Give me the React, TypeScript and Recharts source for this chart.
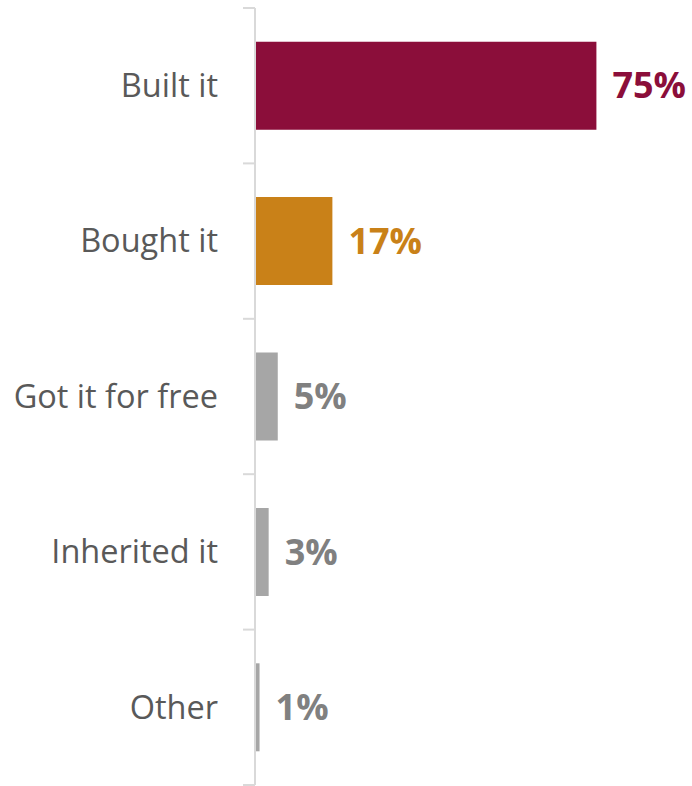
import { BarChart, Bar, XAxis, YAxis, Cell, LabelList } from "recharts";

const categories = ["Built it", "Bought it", "Got it for free", "Inherited it", "Other"];
const shares = [75, 17, 5, 3, 1];
const barColors = ["#8B0E3A", "#C98118", "#A6A6A6", "#A6A6A6", "#A6A6A6"];
const labelColors = ["#8B0E3A", "#C98118", "#808080", "#808080", "#808080"];

const data = categories.map((name, i) => ({ name, value: shares[i] }));

const AXIS_W = 255;
const FONT = "'Open Sans', 'Noto Sans', sans-serif";

const CategoryTick = (props: any) => {
  const { x, y, payload, index } = props;
  const half = payload.offset ?? 0;
  return (
    <g>
      <line x1={AXIS_W - 12} x2={AXIS_W} y1={y - half} y2={y - half} stroke="#d9d9d9" strokeWidth={2} />
      {index === categories.length - 1 && (
        <line x1={AXIS_W - 12} x2={AXIS_W} y1={y + half} y2={y + half} stroke="#d9d9d9" strokeWidth={2} />
      )}
      <text x={x} y={y} dy="0.35em" textAnchor="end" fill="#595959" fontSize={32.5} fontFamily={FONT}>
        {payload.value}
      </text>
    </g>
  );
};

const ValueLabel = (props: any) => {
  const { x, y, width, height, value, index } = props;
  return (
    <text
      x={x + width + 16}
      y={y + height / 2}
      dy="0.35em"
      fill={labelColors[index]}
      fontSize={36}
      fontWeight="bold"
      fontFamily={FONT}
    >
      {value}%
    </text>
  );
};

export default function App() {
  return (
    <div style={{ position: "absolute", left: 0, top: 0, background: "#fff" }}>
      <BarChart
        width={692}
        height={786}
        data={data}
        layout="vertical"
        margin={{ top: 8, right: 0, bottom: 1, left: 0 }}
        barCategoryGap={33.7}
      >
        <XAxis type="number" domain={[0, 96]} hide />
        <YAxis
          type="category"
          dataKey="name"
          width={AXIS_W}
          axisLine={{ stroke: "#d9d9d9", strokeWidth: 2 }}
          tickLine={false}
          tickSize={0}
          tickMargin={37}
          tick={<CategoryTick />}
          interval={0}
        />
        <Bar dataKey="value" isAnimationActive={false}>
          {data.map((d, i) => (
            <Cell key={d.name} fill={barColors[i]} />
          ))}
          <LabelList dataKey="value" content={<ValueLabel />} />
        </Bar>
      </BarChart>
    </div>
  );
}
